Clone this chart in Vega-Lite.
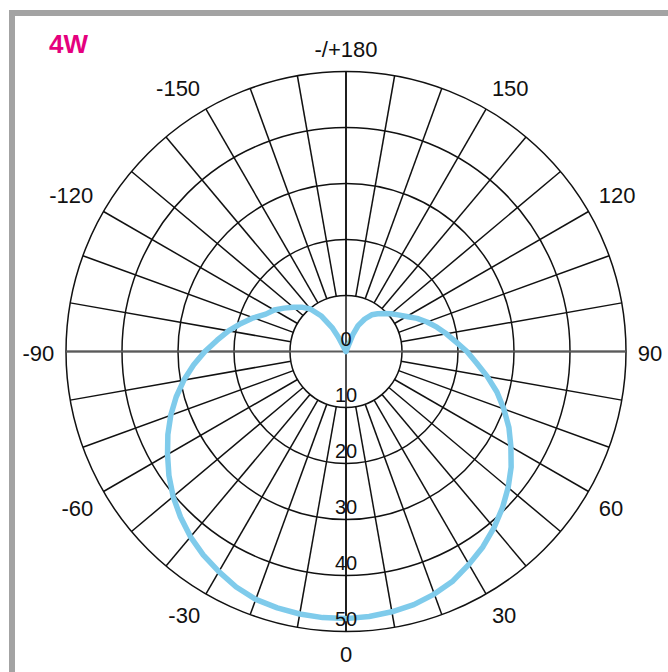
{
  "$schema": "https://vega.github.io/schema/vega-lite/v6.json",
  "width": 660,
  "height": 663,
  "autosize": {"type": "none"},
  "padding": {"left": 12, "top": 13, "right": -4, "bottom": -4},
  "background": "white",
  "config": {"view": {"stroke": "#a3a3a3", "strokeWidth": 6}},
  "title": {"text": "4W", "anchor": "start", "frame": "group", "orient": "top", "offset": -66, "dx": 37, "baseline": "alphabetic", "font": "Liberation Sans", "fontSize": 26, "fontWeight": "bold", "color": "#e5007e"},
  "datasets": {
    "curve": [
      {"angle": -180, "value": 0},
      {"angle": -152, "value": 3.0},
      {"angle": -150, "value": 4.8},
      {"angle": -145, "value": 7.8},
      {"angle": -140, "value": 9.9},
      {"angle": -135, "value": 11.2},
      {"angle": -130, "value": 12.3},
      {"angle": -125, "value": 13.5},
      {"angle": -120, "value": 14.8},
      {"angle": -115, "value": 15.8},
      {"angle": -110, "value": 17.6},
      {"angle": -105, "value": 19.4},
      {"angle": -100, "value": 21.3},
      {"angle": -95, "value": 23.1},
      {"angle": -90, "value": 25.2},
      {"angle": -85, "value": 27.3},
      {"angle": -80, "value": 29.4},
      {"angle": -75, "value": 31.4},
      {"angle": -70, "value": 33.3},
      {"angle": -65, "value": 35.1},
      {"angle": -60, "value": 36.8},
      {"angle": -55, "value": 38.6},
      {"angle": -50, "value": 40.3},
      {"angle": -45, "value": 41.8},
      {"angle": -40, "value": 43.2},
      {"angle": -35, "value": 44.4},
      {"angle": -30, "value": 45.4},
      {"angle": -25, "value": 46.4},
      {"angle": -20, "value": 47.1},
      {"angle": -15, "value": 47.4},
      {"angle": -10, "value": 47.6},
      {"angle": -5, "value": 47.7},
      {"angle": 0, "value": 47.7},
      {"angle": 5, "value": 47.5},
      {"angle": 10, "value": 47.2},
      {"angle": 15, "value": 46.8},
      {"angle": 20, "value": 46.1},
      {"angle": 25, "value": 45.2},
      {"angle": 30, "value": 43.9},
      {"angle": 35, "value": 42.6},
      {"angle": 40, "value": 41.1},
      {"angle": 45, "value": 39.5},
      {"angle": 50, "value": 37.8},
      {"angle": 55, "value": 36.0},
      {"angle": 60, "value": 34.0},
      {"angle": 65, "value": 32.1},
      {"angle": 70, "value": 30.0},
      {"angle": 75, "value": 27.9},
      {"angle": 80, "value": 25.6},
      {"angle": 85, "value": 23.4},
      {"angle": 90, "value": 21.6},
      {"angle": 95, "value": 19.7},
      {"angle": 100, "value": 18.2},
      {"angle": 105, "value": 16.8},
      {"angle": 110, "value": 15.4},
      {"angle": 115, "value": 14.0},
      {"angle": 120, "value": 12.5},
      {"angle": 125, "value": 11.4},
      {"angle": 130, "value": 10.5},
      {"angle": 135, "value": 9.6},
      {"angle": 140, "value": 8.8},
      {"angle": 145, "value": 8.0},
      {"angle": 150, "value": 6.7},
      {"angle": 155, "value": 5.1},
      {"angle": 158, "value": 3.2},
      {"angle": 180, "value": 0}
    ],
    "rings": [{"r": 10}, {"r": 20}, {"r": 30}, {"r": 40}, {"r": 50}],
    "ringLabels": [{"r": 0}, {"r": 10}, {"r": 20}, {"r": 30}, {"r": 40}, {"r": 50}],
    "spokes": [
      {"angle": -170}, {"angle": -160}, {"angle": -150}, {"angle": -140}, {"angle": -130}, {"angle": -120},
      {"angle": -110}, {"angle": -100}, {"angle": -90}, {"angle": -80}, {"angle": -70}, {"angle": -60},
      {"angle": -50}, {"angle": -40}, {"angle": -30}, {"angle": -20}, {"angle": -10}, {"angle": 0},
      {"angle": 10}, {"angle": 20}, {"angle": 30}, {"angle": 40}, {"angle": 50}, {"angle": 60},
      {"angle": 70}, {"angle": 80}, {"angle": 90}, {"angle": 100}, {"angle": 110}, {"angle": 120},
      {"angle": 130}, {"angle": 140}, {"angle": 150}, {"angle": 160}, {"angle": 170}, {"angle": 180}
    ],
    "axes": [{"angle": 0}, {"angle": 90}],
    "angleLabels": [
      {"angle": 0, "label": "0"},
      {"angle": 30, "label": "30"},
      {"angle": 60, "label": "60"},
      {"angle": 90, "label": "90"},
      {"angle": 120, "label": "120"},
      {"angle": 150, "label": "150"},
      {"angle": 180, "label": "-/+180"},
      {"angle": -30, "label": "-30"},
      {"angle": -60, "label": "-60"},
      {"angle": -90, "label": "-90"},
      {"angle": -120, "label": "-120"},
      {"angle": -150, "label": "-150"}
    ]
  },
  "encoding": {
    "x": {"field": "px", "type": "quantitative", "scale": {"domain": [-59.643, 58.214], "nice": false, "zero": false}, "axis": null},
    "y": {"field": "py", "type": "quantitative", "scale": {"domain": [-57.946, 60.446], "nice": false, "zero": false}, "axis": null}
  },
  "layer": [
    {
      "data": {"name": "rings"},
      "transform": [
        {"calculate": "0", "as": "px"},
        {"calculate": "0", "as": "py"}
      ],
      "mark": {"type": "point", "shape": "circle", "filled": false, "color": "#111111", "strokeWidth": 1.5, "opacity": 1},
      "encoding": {
        "size": {"field": "r", "type": "quantitative", "legend": null, "scale": {"type": "pow", "exponent": 2, "domain": [0, 50], "range": [0, 313600], "zero": true, "nice": false}}
      }
    },
    {
      "data": {"name": "spokes"},
      "transform": [
        {"calculate": "10*sin(datum.angle*PI/180)", "as": "px"},
        {"calculate": "-10*cos(datum.angle*PI/180)", "as": "py"},
        {"calculate": "50*sin(datum.angle*PI/180)", "as": "px2"},
        {"calculate": "-50*cos(datum.angle*PI/180)", "as": "py2"}
      ],
      "mark": {"type": "rule", "color": "#111111", "strokeWidth": 1.5},
      "encoding": {
        "x2": {"field": "px2"},
        "y2": {"field": "py2"}
      }
    },
    {
      "data": {"name": "axes"},
      "transform": [
        {"calculate": "-50*sin(datum.angle*PI/180)", "as": "px"},
        {"calculate": "50*cos(datum.angle*PI/180)", "as": "py"},
        {"calculate": "50*sin(datum.angle*PI/180)", "as": "px2"},
        {"calculate": "-50*cos(datum.angle*PI/180)", "as": "py2"}
      ],
      "mark": {"type": "rule"},
      "encoding": {
        "x2": {"field": "px2"},
        "y2": {"field": "py2"},
        "color": {"condition": {"test": "datum.angle == 90", "value": "#5a5a5a"}, "value": "#111111"},
        "strokeWidth": {"condition": {"test": "datum.angle == 90", "value": 2.2}, "value": 1.5}
      }
    },
    {
      "data": {"name": "curve"},
      "transform": [
        {"calculate": "datum.value*sin(datum.angle*PI/180)", "as": "px"},
        {"calculate": "-datum.value*cos(datum.angle*PI/180)", "as": "py"}
      ],
      "mark": {"type": "line", "color": "#7fcbeb", "strokeWidth": 5.5, "strokeCap": "round", "strokeJoin": "round"},
      "encoding": {
        "order": {"field": "angle", "type": "quantitative"}
      }
    },
    {
      "data": {"name": "ringLabels"},
      "transform": [
        {"calculate": "0", "as": "px"},
        {"calculate": "-datum.r", "as": "py"}
      ],
      "mark": {"type": "text", "font": "Liberation Sans", "fontSize": 20, "color": "#111111", "baseline": "middle", "align": "center", "dy": -12},
      "encoding": {
        "text": {"field": "r", "type": "quantitative"}
      }
    },
    {
      "data": {"name": "angleLabels"},
      "transform": [
        {"calculate": "52.1*sin(datum.angle*PI/180)", "as": "px"},
        {"calculate": "-52.1*cos(datum.angle*PI/180)", "as": "py"}
      ],
      "mark": {
        "type": "text", "font": "Liberation Sans", "fontSize": 22, "color": "#111111", "dy": 2,
        "align": {"expr": "datum.angle > 0 && datum.angle < 180 ? 'left' : (datum.angle < 0 ? 'right' : 'center')"},
        "baseline": {"expr": "abs(datum.angle) < 90 ? 'top' : (abs(datum.angle) > 90 ? 'bottom' : 'middle')"}
      },
      "encoding": {
        "text": {"field": "label", "type": "nominal"}
      }
    }
  ]
}
